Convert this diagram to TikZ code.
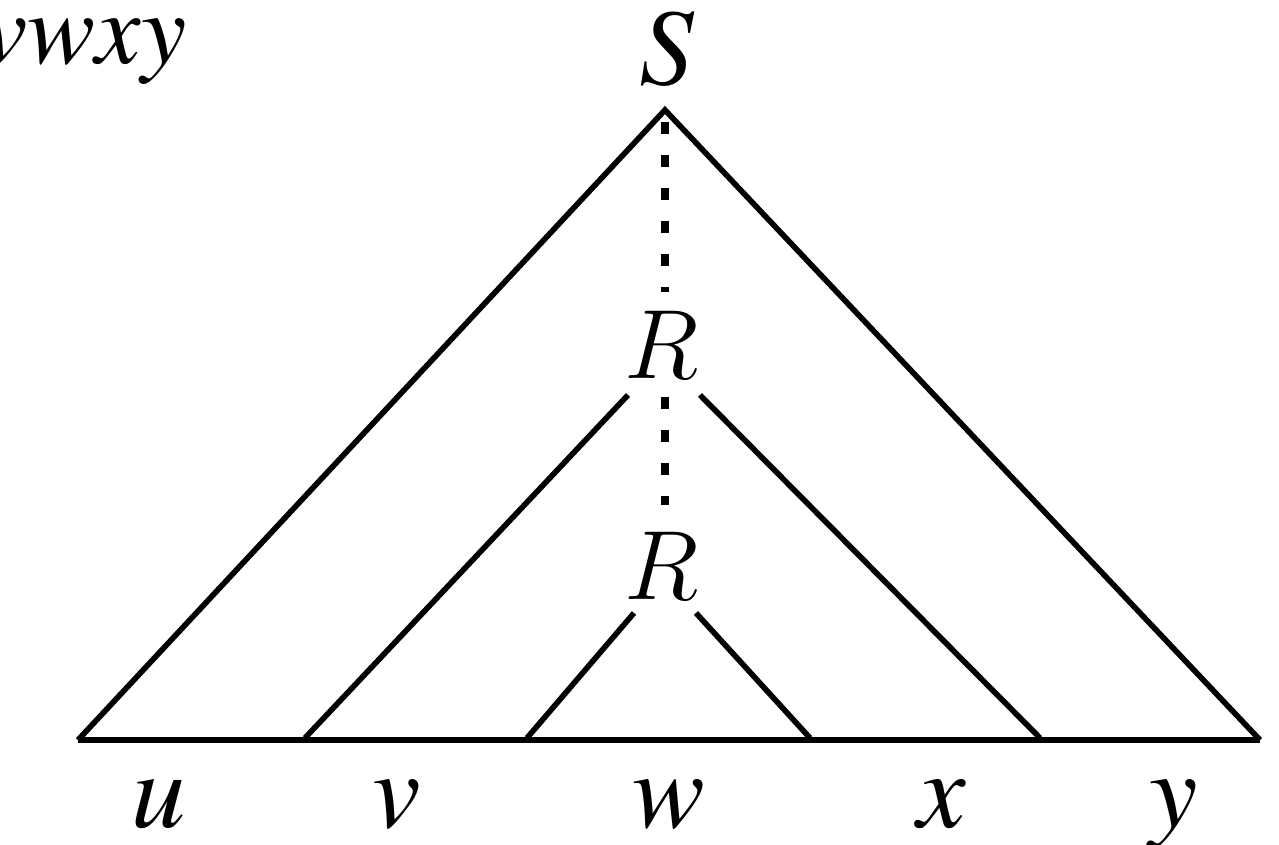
\RequirePackage{fix-cm}
\documentclass[tikz,border=0pt]{standalone}
\usepackage{fontspec}
\setmainfont{texgyretermes}[Extension=.otf, UprightFont=*-regular, ItalicFont=*-italic]
\usetikzlibrary{positioning}
\tikzset{
  branch/.style={line width=1.6pt, black},
  spine/.style={line width=2.2pt, black, dash pattern=on 1.2mm off 2.1mm},
  leaf/.style={font=\itshape\fontsize{31}{36}\selectfont, inner sep=0pt, anchor=base},
  rootlbl/.style={font=\itshape\fontsize{31}{36}\selectfont, inner sep=0pt},
  varlbl/.style={font=\fontsize{28}{32}\selectfont, inner sep=0pt}
}
\begin{document}
\begin{tikzpicture}[x=0.1mm, y=-0.1mm]
  \useasboundingbox (0,0) rectangle (1279,845);
  % labels
  \node[leaf, anchor=base east, font=\itshape\fontsize{29}{34}\selectfont] (word) at (187,63) {uvwxy};
  \node[rootlbl] (S) at (667,49) {S};
  \node[varlbl] (Rtop) at (662,345) {$R$};
  \node[varlbl] (Rbot) at (662,566) {$R$};
  % base points
  \coordinate (top) at (665,110);
  \coordinate (b1) at (78,740);
  \coordinate (b2) at (305,738);
  \coordinate (b3) at (527,738);
  \coordinate (b4) at (810,738);
  \coordinate (b5) at (1040,738);
  \coordinate (b6) at (1260,740);
  % outer triangle
  \draw[branch] (b1) -- (top) -- (b6);
  \draw[branch, line width=1.8pt] (b1) -- (b6);
  % middle subtree
  \draw[branch] (628,395) coordinate (m1) -- (b2);
  \draw[branch] (700,395) coordinate (m2) -- (b5);
  % inner subtree
  \draw[branch] (634,613) coordinate (n1) -- (b3);
  \draw[branch] (696,613) coordinate (n2) -- (b4);
  % spine
  \draw[spine] (665,122) -- (665,292);
  \draw[spine] (665,397) -- (665,505);
  % leaves
  \node[leaf] (u) at (159,828) {u};
  \node[leaf] (v) at (397,828) {v};
  \node[leaf] (w) at (669,828) {w};
  \node[leaf] (x) at (942,828) {x};
  \node[leaf] (y) at (1174,828) {y};
\end{tikzpicture}
\end{document}
